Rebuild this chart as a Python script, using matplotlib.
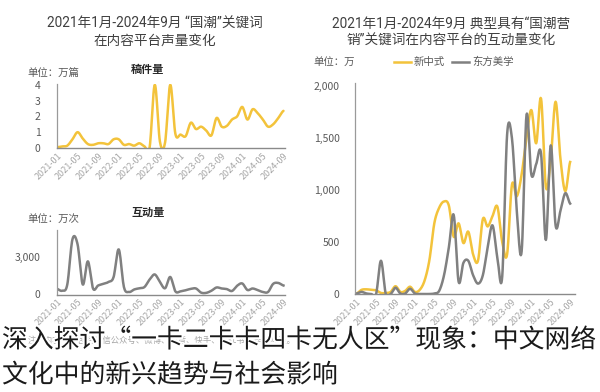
import numpy as np
import matplotlib
matplotlib.use("Agg")
import matplotlib.pyplot as plt
import matplotlib.patheffects as pe

plt.rcParams['font.family'] = ['Noto Sans CJK SC', 'DejaVu Sans']

# ---------------- data ----------------
months = [f"{y}-{m:02d}" for y in range(2021, 2025) for m in range(1, 13)][:45]
tick_labels = months[::4]

# 稿件量 (万篇)
articles = [0.05, 0.1, 0.15, 0.55, 1.0, 0.6, 0.25, 0.2, 0.3, 0.3,
            0.25, 0.55, 0.55, 0.2, 0.25, 0.15, 0.3, 0.1, 0.05, 4.0,
            0.4, 0.35, 4.0, 0.9, 0.85, 0.75, 1.6, 1.2, 1.35, 1.1,
            0.8, 1.9, 1.35, 1.4, 1.8, 2.0, 2.6, 1.8, 2.45, 2.2,
            1.8, 1.35, 1.5, 1.9, 2.35]

# 互动量 (万次)
interactions = [450, 300, 800, 4400, 4000, 800, 2650, 480, 720, 850,
                1000, 1400, 3600, 600, 200, 400, 500, 600, 1200, 1600,
                1000, 500, 1400, 250, 250, 340, 450, 480, 150, 130,
                300, 560, 480, 430, 280, 700, 880, 360, 480, 350,
                200, 200, 850, 920, 720]

# 新中式 (万)
xinzhongshi = [5, 40, 45, 40, 35, 10, 10, 20, 75, 20,
               30, 70, 20, 40, 130, 330, 680, 830, 890, 850,
               550, 680, 490, 600, 380, 320, 720, 650, 750, 840,
               500, 380, 1050, 940, 1150, 1500, 1770, 1450, 1880, 1030,
               1300, 1850, 1300, 990, 1270]

# 东方美学 (万)
dongfang = [5, 20, 5, 0, 0, 320, 0, 0, 60, 5,
            5, 50, 5, 0, 0, 0, 5, 30, 180, 450,
            760, 120, 300, 320, 180, 100, 180, 450, 660, 350,
            170, 1530, 1500, 800, 410, 1720, 1150, 1250, 1350, 520,
            1430, 660, 800, 970, 870]

YELLOW = "#F3C33B"
GRAY = "#808080"
TXT = "#404040"
TITLE_FONT = ['Roboto', 'Noto Sans CJK SC', 'DejaVu Sans']


def smooth(y, n=12):
    y = np.asarray(y, float)
    x = np.arange(len(y), dtype=float)
    xs, ys = [], []
    for i in range(len(y) - 1):
        p0 = y[i - 1] if i > 0 else y[i]
        p1, p2 = y[i], y[i + 1]
        p3 = y[i + 2] if i + 2 < len(y) else y[i + 1]
        m1 = (p2 - p0) / 2.0
        m2 = (p3 - p1) / 2.0
        t = np.linspace(0, 1, n, endpoint=False)
        h00 = 2 * t**3 - 3 * t**2 + 1
        h10 = t**3 - 2 * t**2 + t
        h01 = -2 * t**3 + 3 * t**2
        h11 = t**3 - t**2
        xs.append(x[i] + t)
        ys.append(h00 * p1 + h10 * m1 + h01 * p2 + h11 * m2)
    xs.append([x[-1]])
    ys.append([y[-1]])
    return np.concatenate(xs), np.concatenate(ys)


def style_axes(ax, ypad=9):
    for s in ("top", "right"):
        ax.spines[s].set_visible(False)
    ax.spines["left"].set_color("#9a9a9a")
    ax.spines["bottom"].set_color("#8a8a8a")
    ax.spines["left"].set_linewidth(0.9)
    ax.spines["bottom"].set_linewidth(1.0)
    ax.tick_params(axis="y", length=0, labelsize=7.5, colors="#595959", pad=ypad)
    ax.tick_params(axis="x", length=0, labelsize=6.5, colors="#a6a6a6", pad=2)
    ax.set_xticks(range(0, 45, 4))
    ax.set_xticklabels(tick_labels, rotation=45, ha="right", rotation_mode="anchor")
    ax.patch.set_alpha(0)


W, H = 600, 392
fig = plt.figure(figsize=(6, 3.92), dpi=100)
fig.patch.set_facecolor("white")


def fx(px):
    return px / W


def fy(py):
    return 1 - py / H


# ---- top-left: 稿件量 ----
ax1 = fig.add_axes([fx(57), fy(148), fx(228), (148 - 84) / H])
x, y = smooth(articles)
ax1.plot(x, y, color=YELLOW, lw=1.8, solid_capstyle="round")
ax1.set_xlim(0, 44.3)
ax1.set_ylim(0, 4.05)
ax1.set_yticks([0, 1, 2, 3, 4])
style_axes(ax1, ypad=12)

# ---- bottom-left: 互动量 ----
ax2 = fig.add_axes([fx(57), fy(294.5), fx(228), (294.5 - 230) / H])
x, y = smooth(interactions)
ax2.plot(x, y, color=GRAY, lw=1.8)
ax2.set_xlim(0, 44.3)
ax2.set_ylim(0, 5150)
ax2.set_yticks([0, 3000])
ax2.set_yticklabels(["0", "3,000"])
style_axes(ax2, ypad=12)

# ---- right ----
ax3 = fig.add_axes([fx(355), fy(294), fx(220), (294 - 83) / H])
x, y = smooth(xinzhongshi)
ax3.plot(x, y, color=YELLOW, lw=1.8, label="新中式")
x, y = smooth(dongfang)
ax3.plot(x, y, color=GRAY, lw=1.8, label="东方美学")
ax3.set_xlim(-0.35, 45.0)
ax3.set_ylim(0, 2030)
ax3.set_yticks([0, 500, 1000, 1500, 2000])
ax3.set_yticklabels(["0", "500", "1,000", "1,500", "2,000"])
style_axes(ax3, ypad=11)
ax3.legend(loc="center left", bbox_to_anchor=(fx(394), fy(62)),
           bbox_transform=fig.transFigure, ncol=2, frameon=False,
           fontsize=7.5, handlelength=1.6, handletextpad=0.3,
           columnspacing=0.7, labelcolor="#595959", borderaxespad=0,
           borderpad=0)

# ---- titles & labels ----
fig.text(fx(155), fy(32), "2021年1月-2024年9月 “国潮”关键词\n在内容平台声量变化",
         ha="center", va="center", fontsize=9.8, color=TXT, linespacing=1.3,
         family=TITLE_FONT)
fig.text(fx(451), fy(32), "2021年1月-2024年9月 典型具有“国潮营\n销”关键词在内容平台的互动量变化",
         ha="center", va="center", fontsize=9.8, color=TXT, linespacing=1.3,
         family=TITLE_FONT)
fig.text(fx(148), fy(69), "稿件量", ha="center", va="center", fontsize=8,
         color="#262626", fontweight="bold")
fig.text(fx(148), fy(212), "互动量", ha="center", va="center", fontsize=8,
         color="#262626", fontweight="bold")
fig.text(fx(27), fy(73), "单位：万篇", ha="left", va="center", fontsize=7.5, color="#595959")
fig.text(fx(27), fy(219), "单位：万次", ha="left", va="center", fontsize=7.5, color="#595959")
fig.text(fx(313), fy(62), "单位：万", ha="left", va="center", fontsize=7.5, color="#595959")

# footnote
fig.text(fx(28), fy(340), "注：内容平台包括微信公众号、微博、抖音、快手、小红书、哔哩哔哩。",
         ha="left", va="center", fontsize=6, color="#a6a6a6")

# overlay caption
cap = fig.text(fx(2), fy(340), "深入探讨“一卡二卡卡四卡无人区”现象：中文网络",
               ha="left", va="center", fontsize=18.6, color="#1a1a1a")
cap2 = fig.text(fx(2), fy(375), "文化中的新兴趋势与社会影响",
                ha="left", va="center", fontsize=18.6, color="#1a1a1a")
for t in (cap, cap2):
    t.set_path_effects([pe.withStroke(linewidth=3, foreground="white")])

fig.savefig("out.png", dpi=100, facecolor="white")
